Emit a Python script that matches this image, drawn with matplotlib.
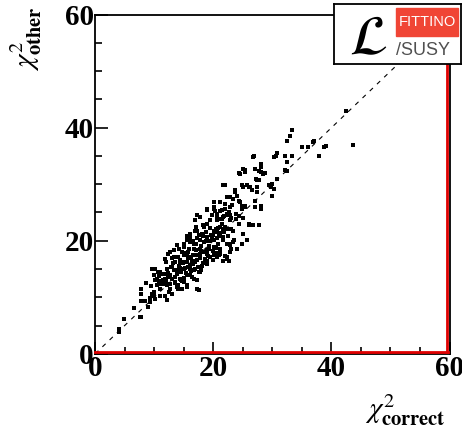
import matplotlib
matplotlib.use('Agg')
import matplotlib.pyplot as plt
from matplotlib.lines import Line2D
from matplotlib.patches import Rectangle

plt.rcParams['mathtext.fontset'] = 'stix'
plt.rcParams['font.family'] = 'Liberation Serif'

# chi2 of the correct model vs chi2 of the other model
chi2_correct = [
  4.0, 4.1, 4.9, 4.8, 7.7, 6.5, 7.6, 8.9, 7.7, 8.5, 9.3, 9.2, 9.9, 9.6, 10.2,
  7.7, 7.7, 8.6, 11.0, 11.0, 10.9, 11.6, 12.2, 10.5, 12.7, 13.6, 13.8, 12.4,
  12.2,
  9.6, 10.2, 10.7, 9.9, 11.3, 10.5, 11.9, 11.0, 12.7, 12.2, 13.0, 13.8, 13.6,
  14.4, 15.0, 15.8, 16.7, 17.2, 15.5, 14.7, 14.1, 12.7, 11.9, 13.0, 12.4, 11.9,
  13.3, 13.8, 14.7, 15.0, 16.1, 15.5, 16.4, 17.2, 17.8, 18.4, 18.9, 19.8, 20.6,
  19.2, 20.1, 18.1, 17.8, 16.9, 16.1, 15.0, 14.4, 13.6, 16.7, 15.8, 17.2, 18.1,
  16.9, 15.5, 18.9, 18.6, 17.5,
  25.4, 24.8, 24.3, 23.4, 22.3, 22.9, 21.2, 20.1, 20.6, 18.9, 17.8, 16.9, 19.5,
  21.7, 22.9, 24.3, 25.1, 24.9, 23.4, 22.3, 21.2, 20.1, 18.4, 17.2, 16.1, 15.5,
  15.0, 16.7, 17.8, 18.9, 20.6, 21.7, 22.9, 21.2, 20.1, 18.9, 17.8, 19.5, 20.6,
  21.7, 21.2, 22.9, 22.3, 24.0, 25.7, 26.0, 16.1, 16.7, 15.5,
  26.8, 30.2, 27.1, 28.0, 28.0, 28.5, 25.1, 25.4, 24.5, 21.7, 24.9, 25.7, 26.3,
  27.4, 27.4, 27.4, 26.6, 29.4, 29.9, 30.2, 29.9, 23.7, 24.0, 22.9, 24.3, 24.9,
  25.4, 27.1, 27.1, 28.0, 28.0, 20.1, 20.1, 21.2, 22.0, 22.3, 22.9, 20.7, 21.5,
  22.4, 23.0, 23.8, 24.3, 26.0, 26.8, 27.7,
  42.5, 43.7, 33.4, 33.0, 32.4, 37.0, 35.0, 36.0, 38.8, 37.9, 30.8, 30.6, 32.2,
  33.3, 32.4, 26.9, 28.0, 27.1, 27.8, 28.8, 32.2, 32.5, 27.3, 30.8, 39.0, 36.9,
  25.3, 24.3, 21.9, 23.7, 25.1, 26.0, 27.7, 29.7, 29.9, 23.4, 22.9, 20.9, 22.3,
  22.6, 12.7, 13.8, 18.9, 17.2, 16.1,
  12.5, 13.0, 13.4, 13.9, 14.2, 14.6, 14.9, 15.2, 15.5, 15.8, 16.0, 16.3, 16.6,
  16.9, 17.1, 17.4, 17.7, 18.0, 18.2, 18.5, 18.8, 19.1, 19.3, 19.6, 19.9, 20.2,
  20.5, 20.8, 21.1, 21.4, 21.7, 22.0,
  13.2, 14.0, 14.7, 15.3, 15.9, 16.4, 17.0, 17.6, 18.3, 18.9, 19.5, 20.0, 20.6,
  21.2, 21.8, 22.3,
  12.0, 12.8, 13.6, 14.4, 15.1, 15.7, 16.2, 16.8, 17.3, 17.9, 18.6, 19.2, 19.8,
  20.4, 21.0, 21.6,
  14.3, 14.8, 15.4, 13.9, 14.6, 13.4, 10.8, 11.6, 12.3, 9.4, 10.1,
  19.0, 19.8, 20.3, 21.0, 21.5, 22.0, 22.6, 23.2, 23.0, 23.8, 24.6, 25.0, 18.2,
  17.5, 18.7, 19.4, 20.0, 20.8, 21.8, 22.5, 23.5, 16.5, 17.0, 15.0, 14.2, 13.0,
  12.0, 11.5, 10.8, 10.0, 11.0, 12.5, 14.0, 15.5, 16.0, 16.5, 17.2, 18.0, 19.0,
  20.5, 22.0, 23.0,
]
chi2_other = [
  4.4, 3.8, 6.1, 6.2, 6.5, 8.1, 6.5, 8.2, 9.3, 9.3, 9.1, 9.8, 10.3, 10.6, 9.7,
  10.6, 11.5, 12.6, 10.3, 11.5, 12.4, 12.4, 12.1, 12.2, 12.4, 12.7, 11.8, 13.6,
  9.5,
  15.0, 15.0, 14.5, 13.9, 14.2, 13.3, 13.3, 12.4, 13.9, 15.0, 15.3, 14.7, 13.6,
  13.3, 12.7, 13.9, 13.3, 11.5, 11.8, 11.5, 12.1, 11.5, 10.3, 10.6, 17.7, 16.8,
  18.3, 17.1, 18.0, 19.5, 19.7, 16.2, 16.5, 17.4, 18.6, 19.7, 20.4, 20.9, 21.5,
  18.9, 17.4, 15.6, 14.5, 15.0, 15.0, 15.0, 16.2, 16.2, 18.6, 18.0, 20.4, 21.2,
  21.8, 20.9, 17.7, 16.5, 11.2,
  26.2, 25.7, 27.1, 27.4, 27.7, 26.0, 26.8, 25.7, 24.8, 25.4, 24.2, 23.6, 23.6,
  24.2, 23.6, 23.0, 21.2, 19.5, 21.8, 22.1, 22.4, 21.8, 22.4, 21.8, 21.2, 20.1,
  18.9, 19.5, 20.1, 20.6, 20.4, 20.1, 19.5, 18.6, 18.9, 18.3, 17.7, 17.1, 17.1,
  16.5, 17.7, 18.0, 16.8, 18.6, 20.1, 23.0, 17.1, 16.5, 17.7,
  34.8, 34.8, 32.7, 33.0, 32.1, 31.9, 32.7, 32.1, 31.9, 29.8, 29.8, 29.8, 29.5,
  30.7, 29.5, 28.6, 28.9, 29.8, 30.1, 29.2, 28.0, 28.9, 28.0, 27.7, 27.1, 26.2,
  26.0, 27.1, 26.0, 26.2, 25.7, 26.8, 26.0, 25.3, 25.6, 24.8, 24.5, 24.4, 23.9,
  24.6, 24.0, 23.9, 24.4, 22.7, 22.7, 22.7,
  42.9, 37.0, 39.6, 38.6, 37.6, 37.6, 36.6, 36.6, 36.6, 35.0, 35.6, 35.0, 35.0,
  35.0, 33.9, 35.0, 33.6, 32.7, 32.4, 32.0, 32.6, 32.4, 31.0, 31.0, 36.7, 37.4,
  32.6, 32.0, 29.9, 28.7, 29.5, 29.5, 30.7, 29.5, 28.0, 19.7, 19.2, 17.4, 17.1,
  16.5, 18.0, 19.2, 25.7, 24.5, 20.4,
  14.0, 13.2, 14.8, 14.1, 15.6, 14.4, 16.3, 15.1, 13.9, 16.9, 15.7, 14.6, 17.5,
  16.2, 18.4, 15.3, 17.0, 19.1, 16.0, 18.0, 20.0, 17.3, 19.0, 21.0, 18.2, 20.2,
  22.0, 19.4, 21.3, 23.0, 20.6, 22.5,
  16.0, 17.2, 12.9, 17.8, 18.6, 13.6, 19.5, 14.4, 20.8, 15.8, 22.3, 16.6, 23.6,
  18.0, 24.4, 19.5,
  12.8, 15.3, 12.5, 16.6, 13.4, 15.4, 17.0, 14.9, 16.6, 18.2, 16.8, 18.5, 20.6,
  18.8, 20.9, 22.1,
  15.2, 16.0, 14.3, 14.9, 13.0, 17.1, 13.7, 14.1, 14.3, 12.0, 13.0,
  23.0, 24.5, 25.2, 23.8, 25.5, 26.5, 25.0, 26.3, 22.0, 24.8, 26.8, 24.0, 22.8,
  21.0, 21.5, 20.0, 21.0, 22.3, 21.5, 20.8, 20.2, 20.0, 22.5, 17.5, 18.5, 17.0,
  16.2, 13.0, 12.8, 11.0, 14.5, 11.0, 11.5, 12.2, 14.0, 15.8, 13.0, 14.8, 16.4,
  17.8, 17.3, 18.5,
]

XMAX = 60
YMAX = 60
ticks = [0, 20, 40, 60]

fig = plt.figure(figsize=(4.62, 4.33), dpi=100)
ax = fig.add_axes([0.206, 0.183, 0.767, 0.783])

ax.plot([0, XMAX], [0, YMAX], color='black', linestyle=(0, (4, 5)), linewidth=0.8)
ax.plot(chi2_correct, chi2_other, 's', color='black', markersize=2.8,
        markeredgewidth=0)

ax.set_xlim(0, XMAX)
ax.set_ylim(0, YMAX)
ax.set_xticks(ticks)
ax.set_yticks(ticks)
ax.set_xticks(range(0, XMAX + 1, 5), minor=True)
ax.set_yticks(range(0, YMAX + 1, 5), minor=True)
ax.tick_params(which='both', direction='in', top=False, right=False,
               width=1.2, labelsize=21, pad=1)
ax.tick_params(which='major', length=9)
ax.tick_params(which='minor', length=5)
for lab in ax.get_xticklabels() + ax.get_yticklabels():
  lab.set_fontweight('bold')

for sp in ax.spines.values():
  sp.set_linewidth(1.3)
# red frame shadow just inside bottom and right edges
ax.add_line(Line2D([0, 0.995], [0.006, 0.006], transform=ax.transAxes,
                   color='#e00000', linewidth=2.0, clip_on=False, zorder=3))
ax.add_line(Line2D([0.994, 0.994], [0.006, 1], transform=ax.transAxes,
                   color='#e00000', linewidth=2.0, clip_on=False, zorder=3))

fig.text(0.965, 0.012, r'$\chi^{2}_{\mathbf{correct}}$', fontsize=21,
         ha='right', va='bottom')
fig.text(0.018, 0.985, r'$\chi^{2}_{\mathbf{other}}$', fontsize=21,
         rotation=90, ha='left', va='top')

# Fittino logo
logo = fig.add_axes([334 / 462, 1 - 64 / 433, 127 / 462, 60 / 433])
logo.set_xlim(0, 1)
logo.set_ylim(0, 1)
logo.set_xticks([])
logo.set_yticks([])
logo.set_facecolor('white')
for sp in logo.spines.values():
  sp.set_linewidth(1.3)
logo.add_patch(Rectangle((0.49, 0.47), 0.49, 0.47, color='#f04535'))
logo.text(0.735, 0.70, 'FITTINO', color='white', fontsize=10.5,
          family='Liberation Sans', ha='center', va='center')
logo.text(0.70, 0.22, '/SUSY', color='#505050', fontsize=13,
          family='Liberation Sans', ha='center', va='center')
logo.text(0.27, 0.40, r'$\mathcal{L}$', fontsize=40, ha='center',
          va='center', color='black')

fig.savefig('out.png', dpi=100)
